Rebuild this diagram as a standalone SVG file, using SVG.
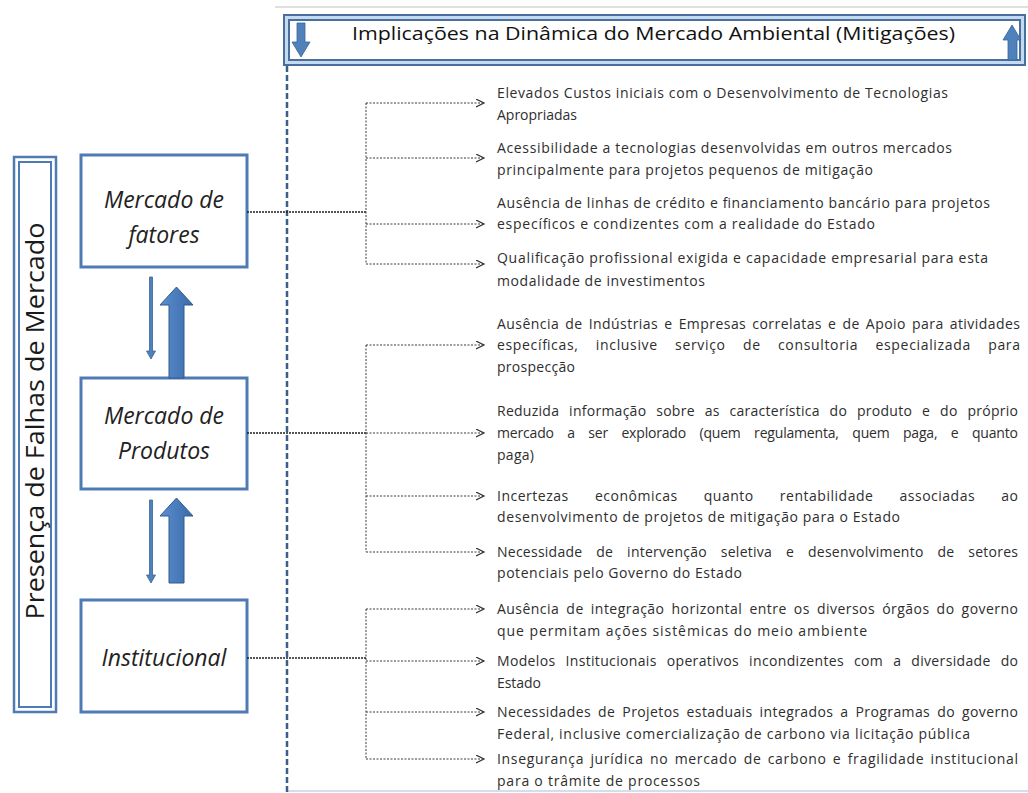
<svg xmlns="http://www.w3.org/2000/svg" width="1028" height="793" viewBox="0 0 1028 793">
<defs>
<style>
.box{fill:#fff;stroke:#4f7bb4;stroke-width:3}
.btxt{font-family:"Open Sans","Liberation Sans",sans-serif;font-style:italic;font-size:23px;fill:#222;text-anchor:middle}
.it{font-family:"Open Sans","Liberation Sans",sans-serif;font-size:14px;fill:#2e2e2e}
.trunk{stroke:#1e1e1e;stroke-width:1.6;stroke-dasharray:2 1;fill:none}
.br{stroke:#3a3a3a;stroke-width:1;stroke-dasharray:2 1.5;fill:none}
.ar{stroke:#3a3a3a;stroke-width:1;stroke-dasharray:2 1.5;fill:none;marker-end:url(#chev)}
.thin{fill:#4f81bd;stroke:#3a6496;stroke-width:0.8}
.thick{fill:url(#gthick);stroke:#2f5a8f;stroke-width:1}
</style>
<marker id="chev" markerUnits="userSpaceOnUse" markerWidth="10" markerHeight="10" refX="8" refY="4" orient="auto">
<path d="M0,0 L8,4 L0,8" fill="none" stroke="#333" stroke-width="1.2"/>
</marker>
<linearGradient id="gthick" x1="0" y1="0" x2="1" y2="0">
<stop offset="0" stop-color="#5b8fd0"/>
<stop offset="1" stop-color="#3a69a8"/>
</linearGradient>
</defs>

<line x1="275" y1="7" x2="1028" y2="7" stroke="#d4d4d4" stroke-width="1.5"/>
<line x1="287" y1="791" x2="1028" y2="791" stroke="#cfe0f1" stroke-width="2"/>

<g id="header">
<rect x="284" y="15" width="741" height="50" fill="#c3daf0" stroke="#4a6f9c" stroke-width="2"/>
<rect x="289" y="20" width="731" height="40" fill="#fff" stroke="#4a6f9c" stroke-width="2"/>
<path d="M297,23 H305 V42 H310 L301,57 L292,42 H297 Z" fill="#4f81bd" stroke="#3a6496" stroke-width="0.8"/>
<path d="M1008,60 V40 H1003 L1012,25 L1021,40 H1017 V60 Z" fill="#4f81bd" stroke="#3a6496" stroke-width="0.8"/>
<text x="352" y="40" font-family="Open Sans, Liberation Sans, sans-serif" font-size="19" fill="#111" textLength="603" lengthAdjust="spacingAndGlyphs">Implicações  na Dinâmica do  Mercado Ambiental (Mitigações)</text>
</g>

<g id="sidebar">
<rect x="14" y="157" width="42" height="555" fill="#fff" stroke="#4f7bb4" stroke-width="2.5"/>
<rect x="19" y="162" width="32" height="545" fill="#fff" stroke="#4f7bb4" stroke-width="2"/>
<text transform="translate(44,421) rotate(-90)" text-anchor="middle" font-family="Open Sans, Liberation Sans, sans-serif" font-size="25" fill="#1a1a1a" textLength="397" lengthAdjust="spacingAndGlyphs">Presença de Falhas de  Mercado</text>
</g>

<g id="node-fatores">
<rect class="box" x="81" y="155" width="166" height="112"/>
<text class="btxt" x="164" y="208">Mercado de</text>
<text class="btxt" x="164" y="243">fatores</text>
</g>
<g id="node-produtos">
<rect class="box" x="81" y="378" width="166" height="111"/>
<text class="btxt" x="164" y="424">Mercado de</text>
<text class="btxt" x="164" y="459">Produtos</text>
</g>
<g id="node-institucional">
<rect class="box" x="81" y="600" width="166" height="112"/>
<text class="btxt" x="164" y="666">Institucional</text>
</g>

<g id="flow-arrows">
<path class="thin" d="M149.5,277 H152.5 V351 H155.5 L151,359 L146.5,351 H149.5 Z"/>
<path class="thick" d="M169,378 V305 H160 L176.5,287 L193,305 H184 V378 Z"/>
<path class="thin" d="M149.5,500 H152.5 V575 H155.5 L151,583 L146.5,575 H149.5 Z"/>
<path class="thick" d="M169,583 V516 H160 L176.5,498 L193,516 H184 V583 Z"/>
</g>

<g id="connectors">
<line x1="287" y1="66" x2="287" y2="793" stroke="#3b5f8c" stroke-width="2.5" stroke-dasharray="6 3"/>
<line class="trunk" x1="247" y1="212" x2="366" y2="212"/>
<line class="br" x1="366" y1="103" x2="366" y2="264"/>
<line class="ar" x1="366" y1="103" x2="484" y2="103"/>
<line class="ar" x1="366" y1="158" x2="484" y2="158"/>
<line class="ar" x1="366" y1="224" x2="484" y2="224"/>
<line class="ar" x1="366" y1="264" x2="484" y2="264"/>

<line class="trunk" x1="247" y1="433" x2="366" y2="433"/>
<line class="br" x1="366" y1="345" x2="366" y2="552"/>
<line class="ar" x1="366" y1="345" x2="484" y2="345"/>
<line class="ar" x1="366" y1="433" x2="484" y2="433"/>
<line class="ar" x1="366" y1="496" x2="484" y2="496"/>
<line class="ar" x1="366" y1="552" x2="484" y2="552"/>

<line class="trunk" x1="247" y1="658" x2="366" y2="658"/>
<line class="br" x1="366" y1="609" x2="366" y2="759"/>
<line class="ar" x1="366" y1="609" x2="484" y2="609"/>
<line class="ar" x1="366" y1="661" x2="484" y2="661"/>
<line class="ar" x1="366" y1="712" x2="484" y2="712"/>
<line class="ar" x1="366" y1="759" x2="484" y2="759"/>
</g>

<g id="items-fatores">
<text class="it" x="497" y="98" textLength="451" lengthAdjust="spacing">Elevados Custos iniciais com o Desenvolvimento de Tecnologias</text>
<text class="it" x="497" y="120" textLength="80" lengthAdjust="spacing">Apropriadas</text>
<text class="it" x="497" y="153" textLength="455" lengthAdjust="spacing">Acessibilidade a tecnologias desenvolvidas em outros mercados</text>
<text class="it" x="497" y="175" textLength="376" lengthAdjust="spacing">principalmente para projetos pequenos de mitigação</text>
<text class="it" x="497" y="208" textLength="493" lengthAdjust="spacing">Ausência de linhas de crédito e financiamento bancário para projetos</text>
<text class="it" x="497" y="229" textLength="378" lengthAdjust="spacing">específicos e condizentes com a realidade do Estado</text>
<text class="it" x="497" y="263" textLength="491" lengthAdjust="spacing">Qualificação profissional exigida e  capacidade empresarial para esta</text>
<text class="it" x="497" y="286" textLength="208" lengthAdjust="spacing">modalidade de investimentos</text>
</g>

<g id="items-produtos">
<text class="it" x="497" y="329" textLength="523" lengthAdjust="spacing" word-spacing="2">Ausência de Indústrias e Empresas correlatas e de Apoio para atividades</text>
<text class="it" x="497" y="350" textLength="523" lengthAdjust="spacing" word-spacing="13">específicas, inclusive serviço de consultoria especializada para</text>
<text class="it" x="497" y="372" textLength="78" lengthAdjust="spacing">prospecção</text>
<text class="it" x="497" y="416" textLength="521" lengthAdjust="spacing" word-spacing="6">Reduzida informação sobre as característica do produto e do próprio</text>
<text class="it" x="497" y="438" textLength="521" lengthAdjust="spacing" word-spacing="10">mercado a ser explorado (quem regulamenta, quem paga, e quanto</text>
<text class="it" x="497" y="460" textLength="37" lengthAdjust="spacing">paga)</text>
<text class="it" x="497" y="501" textLength="521" lengthAdjust="spacing" word-spacing="22">Incertezas econômicas quanto  rentabilidade associadas ao</text>
<text class="it" x="497" y="522" textLength="403" lengthAdjust="spacing">desenvolvimento de projetos de mitigação para o Estado</text>
<text class="it" x="497" y="557" textLength="521" lengthAdjust="spacing" word-spacing="10">Necessidade de intervenção seletiva e desenvolvimento de setores</text>
<text class="it" x="497" y="578" textLength="245" lengthAdjust="spacing">potenciais pelo Governo do Estado</text>
</g>

<g id="items-institucional">
<text class="it" x="497" y="614" textLength="521" lengthAdjust="spacing" word-spacing="3">Ausência de integração horizontal entre os diversos órgãos do governo</text>
<text class="it" x="497" y="636" textLength="370" lengthAdjust="spacing">que permitam ações sistêmicas  do meio ambiente</text>
<text class="it" x="497" y="666" textLength="521" lengthAdjust="spacing" word-spacing="6">Modelos Institucionais operativos incondizentes com a diversidade do</text>
<text class="it" x="497" y="688" textLength="44" lengthAdjust="spacing">Estado</text>
<text class="it" x="497" y="717" textLength="521" lengthAdjust="spacing" word-spacing="3">Necessidades de Projetos estaduais integrados a Programas do governo</text>
<text class="it" x="497" y="739" textLength="473" lengthAdjust="spacing">Federal, inclusive comercialização de carbono via licitação pública</text>
<text class="it" x="497" y="764" textLength="521" lengthAdjust="spacing" word-spacing="2">Insegurança jurídica no mercado de carbono e  fragilidade institucional</text>
<text class="it" x="497" y="786" textLength="203" lengthAdjust="spacing">para o  trâmite de processos</text>
</g>
</svg>
